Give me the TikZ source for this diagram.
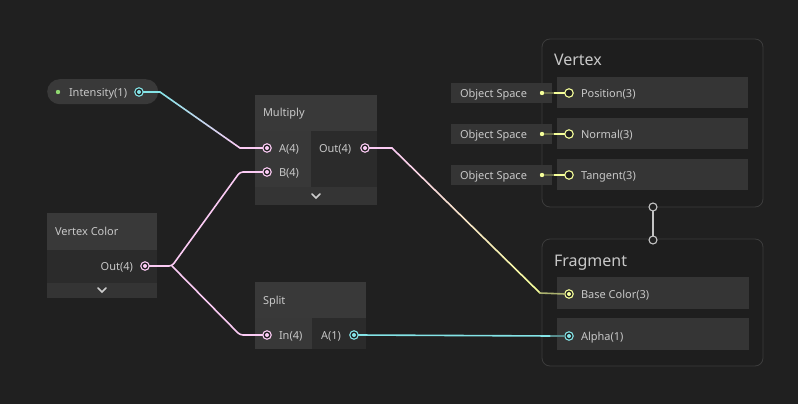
\documentclass[tikz,border=0pt]{standalone}
\usepackage{fontspec}
\setmainfont{Noto Sans}
\usetikzlibrary{calc}
\definecolor{bg}{HTML}{202020}
\definecolor{ttl}{HTML}{393939}
\definecolor{inarea}{HTML}{383838}
\definecolor{outarea}{HTML}{2B2B2B}
\definecolor{foot}{HTML}{343434}
\definecolor{rowc}{HTML}{353535}
\definecolor{blockf}{HTML}{1E1E1E}
\definecolor{blockb}{HTML}{3C3C3C}
\definecolor{txt}{HTML}{C8C8C8}
\definecolor{vone}{HTML}{84E4E7}
\definecolor{vfour}{HTML}{FBCBF4}
\definecolor{vthree}{HTML}{F6FF9A}
\definecolor{propg}{HTML}{8FD870}
\definecolor{flowc}{HTML}{C4C4C4}
\begin{document}
\begin{tikzpicture}[x=1pt,y=-1pt,
  panel/.style={fill=#1, draw=none, inner sep=0, outer sep=0, anchor=north west},
  lbl/.style={text=txt, font=\fontsize{11}{13}\selectfont, inner sep=0, outer sep=0, anchor=base west},
  big/.style={text=txt, font=\fontsize{16}{19}\selectfont, inner sep=0, outer sep=0, anchor=base west},
  port/.style={circle, draw=#1, fill=bg, line width=1.1pt, minimum size=8.5pt, inner sep=0, outer sep=0},
  portd/.style={port=#1, path picture={\fill[#1] (path picture bounding box.center) circle (2pt);}},
  dotn/.style={circle, fill=#1, minimum size=4.4pt, inner sep=0, outer sep=0},
  wire/.style={line width=1.6pt, line cap=round, line join=round},
  chev/.style={draw=txt!90!white, line width=1.6pt, line cap=round, line join=miter},
  block/.style={draw=blockb, fill=blockf, rounded corners=8pt, line width=0.8pt, inner sep=0, outer sep=0, anchor=north west},
  cport/.style={circle, draw=flowc, fill=bg, line width=1.1pt, minimum size=8pt, inner sep=0, outer sep=0}
]
\fill[bg] (0,0) rectangle (798,404);
\useasboundingbox (0,0) rectangle (798,404);

% ---------- Intensity property ----------
\node[fill=ttl, rounded corners=12.5pt, minimum width=111pt, minimum height=25pt, inner sep=0, anchor=north west] (intP) at (47,79) {};
\node[dotn=propg] (intDot) at (58,92) {};
\node[lbl] (intTxt) at (69,96) {Intensity(1)};
\node[portd=vone] (intO) at (139,92) {};

% ---------- Multiply ----------
\node[panel=ttl, minimum width=122pt, minimum height=36pt] (mulT) at (255,95) {};
\node[panel=inarea, minimum width=56pt, minimum height=56pt] (mulI) at (255,131) {};
\node[panel=outarea, minimum width=66pt, minimum height=56pt] (mulO) at (311,131) {};
\node[panel=foot, minimum width=122pt, minimum height=18pt] (mulF) at (255,187) {};
\node[lbl] (mulTxt) at (263,117) {Multiply};
\node[lbl] (aTxt) at (279,152) {A(4)};
\node[lbl] (bTxt) at (279,176) {B(4)};
\node[lbl] (moTxt) at (319,152) {Out(4)};
\node[portd=vfour] (pA) at (267,148) {};
\node[portd=vfour] (pB) at (267,172) {};
\node[portd=vfour] (pMO) at (365,148) {};
\coordinate (mulC) at (316,196);
\draw[chev] ($(mulC)+(-4,-2)$) -- ($(mulC)+(0,2)$) -- ($(mulC)+(4,-2)$);

% ---------- Vertex Color ----------
\node[panel=ttl, minimum width=110pt, minimum height=37pt] (vcT) at (47,213) {};
\node[panel=outarea, minimum width=110pt, minimum height=33pt] (vcO) at (47,250) {};
\node[panel=foot, minimum width=110pt, minimum height=15pt] (vcF) at (47,283) {};
\node[lbl] (vcTxt) at (55,235) {Vertex Color};
\node[lbl, anchor=base east] (vcoTxt) at (133,270) {Out(4)};
\node[portd=vfour] (pVC) at (145,266) {};
\coordinate (vcC) at (102,290);
\draw[chev] ($(vcC)+(-4,-2)$) -- ($(vcC)+(0,2)$) -- ($(vcC)+(4,-2)$);

% ---------- Split ----------
\node[panel=ttl, minimum width=111pt, minimum height=36pt] (spT) at (255,282) {};
\node[panel=inarea, minimum width=57pt, minimum height=31pt] (spI) at (255,318) {};
\node[panel=outarea, minimum width=54pt, minimum height=31pt] (spO) at (312,318) {};
\node[lbl] (spTxt) at (263,304) {Split};
\node[lbl] (inTxt) at (279,339) {In(4)};
\node[lbl] (saTxt) at (321,339) {A(1)};
\node[portd=vfour] (pIn) at (267,335) {};
\node[portd=vone] (pSA) at (354,335) {};

% ---------- Vertex block ----------
\node[block, minimum width=221pt, minimum height=168pt] (vtx) at (542,39) {};
\node[big] (vtxTxt) at (554,66) {Vertex};
\node[panel=rowc, minimum width=191pt, minimum height=31pt] (rPos) at (557,77) {};
\node[panel=rowc, minimum width=191pt, minimum height=31pt] (rNor) at (557,118) {};
\node[panel=rowc, minimum width=191pt, minimum height=31pt] (rTan) at (557,159) {};
\node[lbl] (posTxt) at (581,97) {Position(3)};
\node[lbl] (norTxt) at (581,138) {Normal(3)};
\node[lbl] (tanTxt) at (581,179) {Tangent(3)};
\foreach \yy/\nm in {83/o1,124/o2,165/o3}{
  \node[panel=rowc, minimum width=101pt, minimum height=20pt] (\nm box) at (451,\yy) {};
  \node[lbl] (\nm txt) at (460,\yy+14) {Object Space};
  \node[dotn=vthree] (\nm dot) at (542,\yy+10) {};
}
\node[port=vthree] (pPos) at (569,93) {};
\node[port=vthree] (pNor) at (569,134) {};
\node[port=vthree] (pTan) at (569,175) {};
\foreach \nm/\pp in {o1/pPos,o2/pNor,o3/pTan}{
  \draw[line width=1.6pt, draw=vthree!35!bg] (\nm dot.east) -- ($(\nm dot)!0.45!(\pp)$);
  \draw[line width=1.6pt, draw=vthree] ($(\nm dot)!0.45!(\pp)$) -- (\pp.west);
}

% ---------- Fragment block ----------
\node[block, minimum width=221pt, minimum height=127pt] (frg) at (542,239) {};
\node[big] (frgTxt) at (554,266) {Fragment};
\node[panel=rowc, minimum width=192pt, minimum height=32pt] (rBC) at (557,277) {};
\node[panel=rowc, minimum width=192pt, minimum height=32pt] (rAl) at (557,318) {};
\node[lbl] (bcTxt) at (581,298) {Base Color(3)};
\node[lbl] (alTxt) at (581,340) {Alpha(1)};

% ---------- flow link ----------
\node[cport] (vtxB) at (653,207) {};
\node[cport] (frgT) at (653,240) {};
\draw[line width=1.4pt, draw=flowc] (vtxB.south) -- (frgT.north);

% ---------- wires ----------
% Intensity -> A
\coordinate (i1) at (160,92);
\coordinate (i2) at (240,148);
\draw[wire, draw=vone] (intO.east) -- (i1);
\foreach \i in {0,...,19}{
  \pgfmathsetmacro\pa{\i/20}\pgfmathsetmacro\pb{(\i+1)/20}\pgfmathsetmacro\pc{100-(\i+0.5)*5}
  \draw[wire, draw=vone!\pc!vfour] ($(i1)!\pa!(i2)$) -- ($(i1)!\pb!(i2)$);
}
\draw[wire, draw=vfour] (i2) -- (pA.west);

% Vertex Color -> B, In
\coordinate (jn) at (172,266);
\coordinate (jb) at (240,172);
\coordinate (ji) at (240,335);
\draw[wire, draw=vfour, rounded corners=3pt] (pVC.east) -- (jn) -- (jb) -- (pB.west);
\draw[wire, draw=vfour, rounded corners=3pt] (jn) -- (ji) -- (pIn.west);

% Multiply Out -> Base Color
\coordinate (m1) at (392,148);
\coordinate (m2) at (540,293);
\draw[wire, draw=vfour] (pMO.east) -- (m1);
\foreach \i in {0,...,19}{
  \pgfmathsetmacro\pa{\i/20}\pgfmathsetmacro\pb{(\i+1)/20}\pgfmathsetmacro\pc{100-(\i+0.5)*5}
  \draw[wire, draw=vfour!\pc!vthree] ($(m1)!\pa!(m2)$) -- ($(m1)!\pb!(m2)$);
}
\node[portd=vthree] (pBC) at (569,294) {};
\draw[wire, draw=vthree!65!bg] (m2) -- (pBC.west);

% Split A -> Alpha
\node[portd=vone] (pAl) at (569,336) {};
\draw[wire, draw=vone] (pSA.east) -- ($(pAl.west)+(-14,0)$);
\draw[wire, draw=vone!55!bg] ($(pAl.west)+(-14,0)$) -- (pAl.west);
\end{tikzpicture}
\end{document}
